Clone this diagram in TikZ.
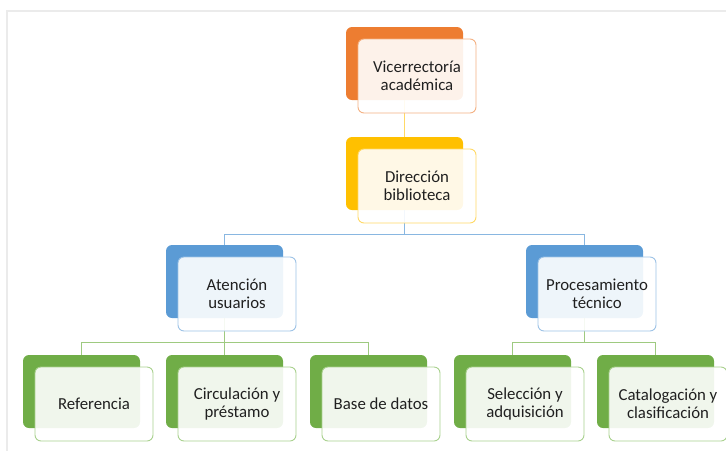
\documentclass[tikz,border=0pt]{standalone}
\usepackage{fontspec}
\setmainfont{Carlito}
\usetikzlibrary{calc}

\definecolor{orgOrange}{HTML}{ED7D31}
\definecolor{orgOrangeLine}{HTML}{F4B183}
\definecolor{orgYellow}{HTML}{FFC000}
\definecolor{orgYellowLine}{HTML}{FFD966}
\definecolor{orgBlue}{HTML}{5B9BD5}
\definecolor{orgBlueLine}{HTML}{9DC3E6}
\definecolor{orgGreen}{HTML}{70AD47}
\definecolor{orgGreenLine}{HTML}{A9D18E}
\definecolor{frameGray}{HTML}{EBEBEB}
\definecolor{txt}{HTML}{202020}

\tikzset{
  backbox/.style={rectangle, rounded corners=6pt, minimum width=117pt,
    minimum height=73pt, inner sep=0pt, outer sep=0pt, anchor=north west, fill=#1},
  frontbox/.style={rectangle, rounded corners=6pt, minimum width=118pt,
    minimum height=74pt, inner sep=0pt, outer sep=0pt, anchor=north west,
    fill=white, fill opacity=0.9, text opacity=1, draw=#1, line width=0.9pt,
    align=center, text=txt,
    font=\fontsize{16.8}{18}\selectfont},
  link/.style={draw=#1, line width=0.9pt}
}

\begin{document}
\begin{tikzpicture}[x=1pt, y=-1pt]
\useasboundingbox (0,0) rectangle (726,451);

% page frame
\draw[frameGray, line width=1.2pt] (7,451) -- (7,11) -- (726,11);

% bus lines
\coordinate (busA) at (0,234);
\coordinate (busB) at (0,342);

% cards: level 1 and 2
\node[backbox=orgOrange] (vicB) at (346,27) {};
\node[backbox=orgYellow] (dirB) at (346,137) {};
% level 3
\node[backbox=orgBlue] (atB) at (166,245) {};
\node[backbox=orgBlue] (proB) at (526,245) {};
% level 4
\node[backbox=orgGreen] (refB) at (23,355) {};
\node[backbox=orgGreen] (cirB) at (166,355) {};
\node[backbox=orgGreen] (basB) at (310,355) {};
\node[backbox=orgGreen] (selB) at (454,355) {};
\node[backbox=orgGreen] (catB) at (597,355) {};

% connectors
\draw[link=orgYellowLine] (vicB.south) -- (dirB.north);
\draw[link=orgBlueLine!70!orgBlue] (dirB.south) -- (dirB.south |- busA) -| (atB.north);
\draw[link=orgBlueLine!70!orgBlue] (dirB.south |- busA) -| (proB.north);
\draw[link=orgGreenLine!80!orgGreen] (atB.south) -- (atB.south |- busB) -| (refB.north);
\draw[link=orgGreenLine!80!orgGreen] (atB.south |- busB) -| (basB.north);
\draw[link=orgGreenLine!80!orgGreen] (atB.south |- busB) -- (cirB.north);
\draw[link=orgGreenLine!80!orgGreen] (proB.south) -- (proB.south |- busB) -| (selB.north);
\draw[link=orgGreenLine!80!orgGreen] (proB.south |- busB) -| (catB.north);

% front cards with labels
\node[frontbox=orgOrangeLine] (vic) at (358,39) {Vicerrectoría\\académica};
\node[frontbox=orgYellowLine] (dir) at (358,149) {Dirección\\biblioteca};
\node[frontbox=orgBlueLine] (at) at (178,257) {Atención\\usuarios};
\node[frontbox=orgBlueLine] (pro) at (538,257) {Procesamiento\\técnico};
\node[frontbox=orgGreenLine] (ref) at (35,367) {Referencia};
\node[frontbox=orgGreenLine] (cir) at (178,367) {Circulación y\\préstamo};
\node[frontbox=orgGreenLine] (bas) at (322,367) {Base de datos};
\node[frontbox=orgGreenLine] (sel) at (466,367) {Selección y\\adquisición};
\node[frontbox=orgGreenLine] (cat) at (609,367) {Catalogación y\\clasificación};
\end{tikzpicture}
\end{document}
